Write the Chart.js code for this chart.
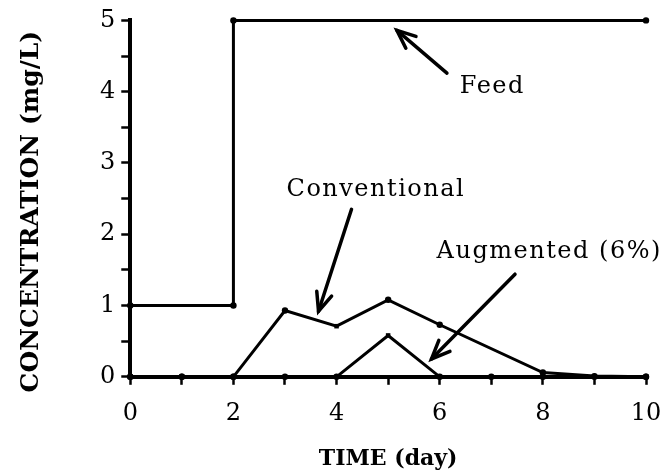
<!DOCTYPE html>
<html lang="en">
  <head>
    <meta charset="UTF-8" />
    <title>Concentration vs Time</title>
    <script src="https://cdn.jsdelivr.net/npm/chart.js"></script>
    <style>
      html,
      body {
        margin: 0;
        padding: 0;
        background: #ffffff;
      }
      .chart {
        position: relative;
        width: 670px;
        height: 472px;
      }
    </style>
  </head>
  <body>
    <div class="chart">
      <canvas id="concChart"></canvas>
    </div>
    <script>
      // data (day, mg/L)
      const feedDays = [0, 2, 2, 10];
      const feedConc = [1, 1, 5, 5];
      const convDays = [0, 1, 2, 3, 4, 5, 6, 8, 9, 10];
      const convConc = [0, 0, 0, 0.93, 0.71, 1.08, 0.73, 0.06, 0.01, 0];
      const augDays = [0, 1, 2, 3, 4, 5, 6, 7, 8, 9, 10];
      const augConc = [0, 0, 0, 0, 0, 0.58, 0, 0, 0, 0, 0];
      const xTickLabels = [0, 2, 4, 6, 8, 10];
      const yTickLabels = [0, 1, 2, 3, 4, 5];

      // annotations in data units: text anchor and arrow tail -> head
      const notes = [
        { text: "Feed", x: 6.39, y: 3.98, tail: [6.14, 4.26], head: [5.17, 4.86] },
        { text: "Conventional", x: 3.03, y: 2.54, tail: [4.29, 2.35], head: [3.65, 0.92] },
        { text: "Augmented (6%)", x: 5.94, y: 1.67, tail: [7.46, 1.44], head: [5.84, 0.25] },
      ];

      const pts = (xs, ys) => xs.map((x, i) => ({ x: x, y: ys[i] }));
      const serif = "'DejaVu Serif', serif";

      const annotate = {
        id: "annotate",
        afterDatasetsDraw(chart) {
          const { ctx, scales } = chart;
          const xs = scales.x;
          const ys = scales.y;
          ctx.save();
          ctx.fillStyle = "#000";
          ctx.strokeStyle = "#000";
          ctx.font = "24px " + serif;
          ctx.letterSpacing = "1.5px";
          ctx.textBaseline = "alphabetic";
          notes.forEach((n) => {
            ctx.fillText(n.text, xs.getPixelForValue(n.x), ys.getPixelForValue(n.y));
            const tx = xs.getPixelForValue(n.tail[0]);
            const ty = ys.getPixelForValue(n.tail[1]);
            const hx = xs.getPixelForValue(n.head[0]);
            const hy = ys.getPixelForValue(n.head[1]);
            const ang = Math.atan2(hy - ty, hx - tx);
            ctx.lineWidth = 3.5;
            ctx.lineCap = "round";
            ctx.beginPath();
            ctx.moveTo(tx, ty);
            ctx.lineTo(hx, hy);
            ctx.stroke();
            // open arrow head
            const len = 20;
            ctx.beginPath();
            ctx.moveTo(hx - len * Math.cos(ang - 0.4), hy - len * Math.sin(ang - 0.4));
            ctx.lineTo(hx, hy);
            ctx.lineTo(hx - len * Math.cos(ang + 0.4), hy - len * Math.sin(ang + 0.4));
            ctx.stroke();
          });
          ctx.restore();
        },
      };

      const lineSet = (data, styles) => ({
        data: data,
        borderColor: "#000",
        backgroundColor: "#000",
        borderWidth: 3,
        pointRadius: 3.2,
        pointStyle: styles,
        pointBorderWidth: 0,
        tension: 0,
        clip: false,
        showLine: true,
      });

      new Chart(document.getElementById("concChart"), {
        type: "scatter",
        data: {
          datasets: [
            lineSet(pts(feedDays, feedConc), "circle"),
            lineSet(
              pts(convDays, convConc),
              convDays.map((d) => (d === 4 ? "rect" : "circle"))
            ),
            lineSet(
              pts(augDays, augConc),
              augDays.map((d) => (d === 5 ? "rect" : "circle"))
            ),
          ],
        },
        options: {
          responsive: true,
          maintainAspectRatio: false,
          animation: false,
          layout: { padding: { top: 14, right: 11, left: 16, bottom: 0 } },
          plugins: {
            legend: { display: false },
            tooltip: { enabled: false },
          },
          scales: {
            x: {
              type: "linear",
              min: 0,
              max: 10,
              // the "10" label may hang past the right edge a bit
              afterFit: (s) => {
                s.paddingRight = 24;
              },
              border: { display: true, color: "#000", width: 4 },
              grid: {
                drawOnChartArea: false,
                drawTicks: true,
                tickLength: 8,
                tickWidth: 2.5,
                tickColor: "#000",
              },
              ticks: {
                stepSize: 1,
                color: "#000",
                padding: 15,
                maxRotation: 0,
                font: { family: serif, size: 24 },
                callback: (v) => (xTickLabels.includes(v) ? String(v) : ""),
              },
              title: {
                display: true,
                text: "TIME (day)",
                color: "#000",
                padding: { top: 2, bottom: 0 },
                font: { family: serif, size: 22, weight: "bold" },
              },
            },
            y: {
              type: "linear",
              min: 0,
              max: 5,
              border: { display: true, color: "#000", width: 4 },
              grid: {
                drawOnChartArea: false,
                drawTicks: true,
                tickLength: 9,
                tickWidth: 2.5,
                tickColor: "#000",
              },
              ticks: {
                stepSize: 0.5,
                color: "#000",
                padding: 6,
                font: { family: serif, size: 24 },
                callback: (v) => (yTickLabels.includes(v) ? String(v) : ""),
              },
              title: {
                display: true,
                text: "CONCENTRATION (mg/L)   ",
                color: "#000",
                padding: { top: 0, bottom: 48 },
                font: { family: serif, size: 25, weight: "bold" },
              },
            },
          },
        },
        plugins: [annotate],
      });
    </script>
  </body>
</html>
